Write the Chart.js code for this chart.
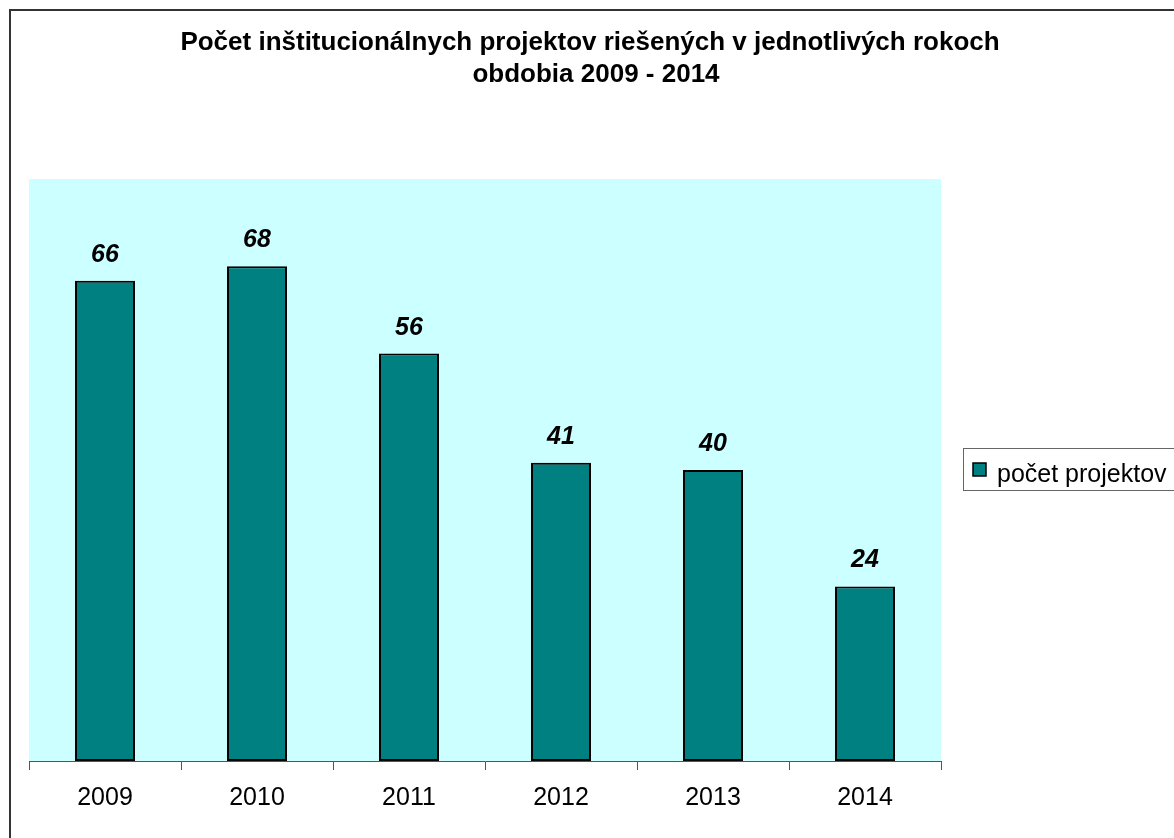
<!DOCTYPE html>
<html>
<head>
<meta charset="utf-8">
<script src="https://cdn.jsdelivr.net/npm/chart.js@4/dist/chart.umd.min.js"></script>
<style>
    body { margin: 0; background: #fff; overflow: hidden; }
    #wrap { position: relative; width: 1174px; height: 838px; }
    #frame { position: absolute; left: 9px; top: 9px; width: 1200px; height: 900px;
             border-left: 2px solid #333; border-top: 2px solid #333; pointer-events: none; }
</style>
</head>
<body>
<div id="wrap">
    <canvas id="projectChart" width="1174" height="838"></canvas>
    <div id="frame"></div>
</div>
<script>
const years = ['2009', '2010', '2011', '2012', '2013', '2014'];
const projectCounts = [66, 68, 56, 41, 40, 24];
const titleLines = ['Počet inštitucionálnych projektov riešených v jednotlivých rokoch', 'obdobia 2009 - 2014'];
const seriesName = 'počet projektov';

const FONT = '"Liberation Sans", Arial, sans-serif';

// plot background, title, value labels and legend
const decorations = {
    id: 'decorations',
    beforeDraw(chart) {
        const { ctx, chartArea } = chart;
        ctx.save();
        ctx.fillStyle = '#CCFFFF';
        ctx.fillRect(chartArea.left, chartArea.top, chartArea.right - chartArea.left, chartArea.bottom - chartArea.top);
        ctx.restore();
    },
    afterDraw(chart) {
        const { ctx } = chart;
        ctx.save();
        ctx.fillStyle = '#000';
        ctx.textAlign = 'center';
        ctx.textBaseline = 'alphabetic';
        ctx.font = 'bold 26px ' + FONT;
        ctx.fillText(titleLines[0], 590, 50);
        ctx.fillText(titleLines[1], 596, 82);

        // value labels above bars
        ctx.font = 'italic bold 25px ' + FONT;
        chart.getDatasetMeta(0).data.forEach((bar, i) => {
            ctx.fillText(String(projectCounts[i]), bar.x, bar.y - 19);
        });

        // legend
        ctx.strokeStyle = '#666';
        ctx.lineWidth = 1;
        ctx.strokeRect(963.5, 448.5, 230, 42);
        ctx.fillStyle = '#008080';
        ctx.fillRect(973, 463, 13, 13);
        ctx.strokeStyle = '#000';
        ctx.lineWidth = 1.5;
        ctx.strokeRect(973, 463, 13, 13);
        ctx.fillStyle = '#000';
        ctx.textAlign = 'left';
        ctx.font = '25px ' + FONT;
        ctx.fillText(seriesName, 997, 482);
        ctx.restore();
    }
};

const ctx = document.getElementById('projectChart').getContext('2d');
new Chart(ctx, {
    type: 'bar',
    data: {
        labels: years,
        datasets: [{
            label: seriesName,
            data: projectCounts,
            backgroundColor: '#008080',
            borderColor: '#000',
            borderWidth: 2,
            borderSkipped: false,
            categoryPercentage: 1,
            barPercentage: 0.395
        }]
    },
    options: {
        responsive: false,
        animation: false,
        events: [],
        layout: { padding: { left: 29, right: 233, top: 179, bottom: 0 } },
        plugins: {
            legend: { display: false },
            title: { display: false },
            tooltip: { enabled: false }
        },
        scales: {
            x: {
                afterFit: scale => { scale.height = 77; },
                grid: {
                    drawOnChartArea: false,
                    tickLength: 9,
                    color: '#555',
                    offset: true
                },
                border: { color: '#555', width: 1 },
                ticks: {
                    color: '#000',
                    padding: 13,
                    font: { family: FONT, size: 25 }
                }
            },
            y: {
                display: false,
                min: 0,
                max: 80
            }
        }
    },
    plugins: [decorations]
});
</script>
</body>
</html>
